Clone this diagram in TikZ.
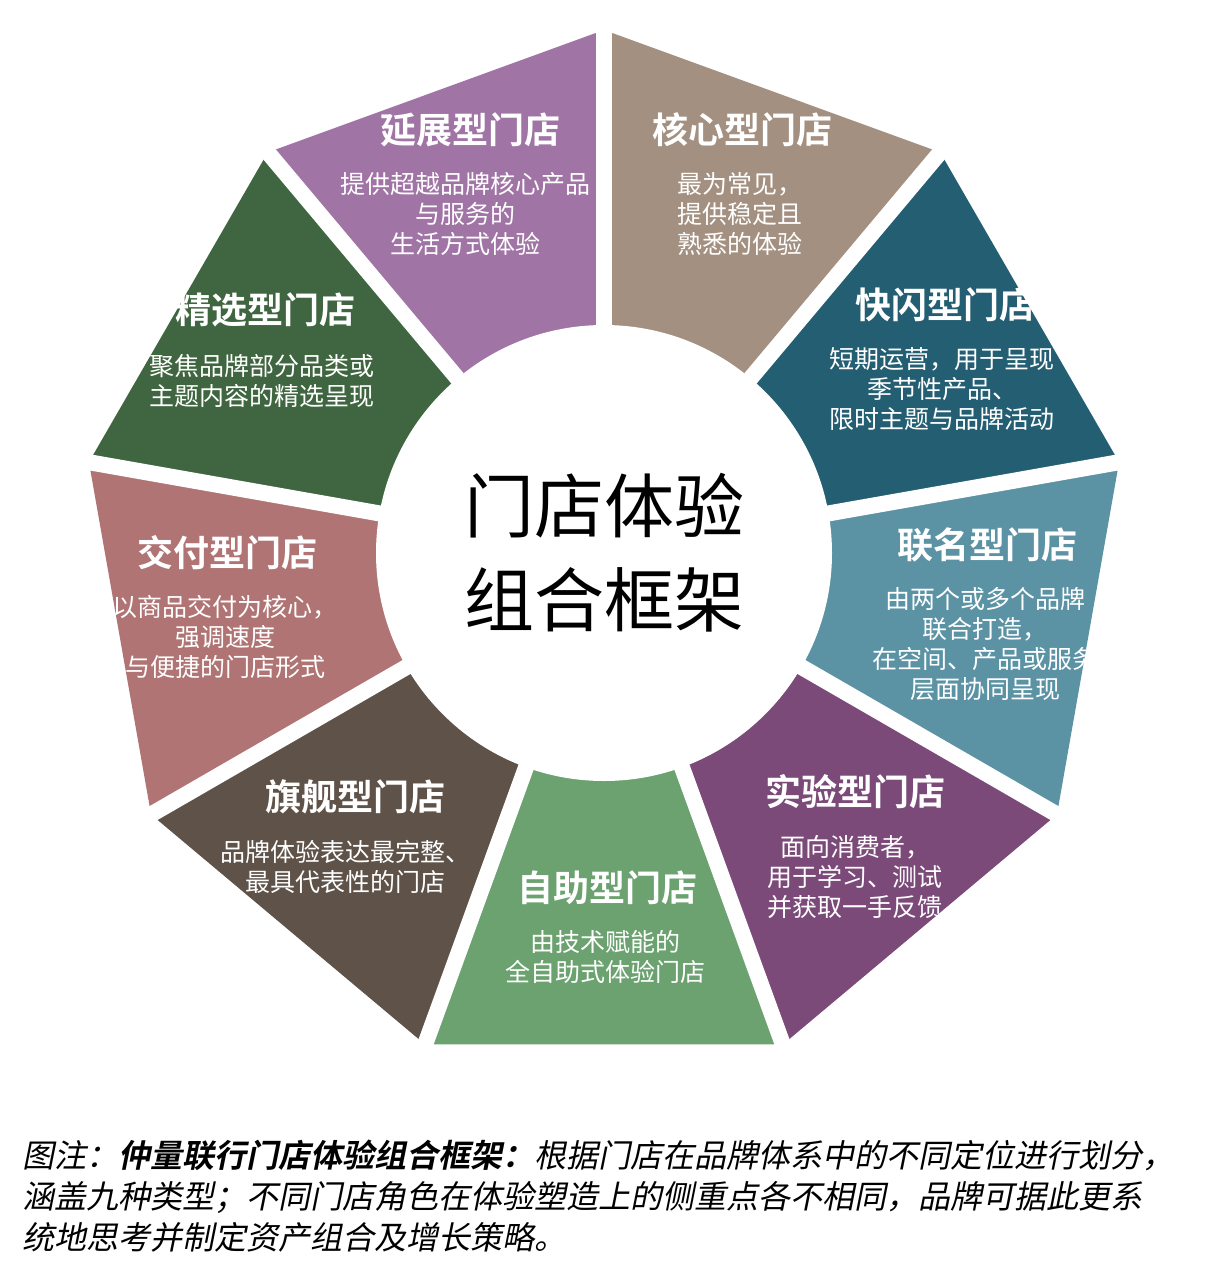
\documentclass[tikz,border=0pt]{standalone}
\usepackage{fontspec}
\usetikzlibrary{calc}
\newfontfamily\cjk{Noto Sans CJK SC}
\newfontfamily\cjkb{Noto Sans CJK SC Bold}
\newfontfamily\cjki[FakeSlant=0.2]{Noto Sans CJK SC}
\newfontfamily\cjkbi[FakeSlant=0.2]{Noto Sans CJK SC Bold}
\definecolor{cYanzhan}{HTML}{A074A5}
\definecolor{cHexin}{HTML}{A39080}
\definecolor{cKuaishan}{HTML}{235E72}
\definecolor{cLianming}{HTML}{5B93A5}
\definecolor{cShiyan}{HTML}{7B4A78}
\definecolor{cZizhu}{HTML}{6BA26F}
\definecolor{cQijian}{HTML}{5E5249}
\definecolor{cJiaofu}{HTML}{B07474}
\definecolor{cJingxuan}{HTML}{3F6640}
\tikzset{
  title/.style={text=white,font=\cjkb\fontsize{18}{21}\selectfont,inner sep=0pt},
  body/.style={text=white,font=\cjk\fontsize{12.5}{15}\selectfont,align=center,inner sep=0pt,anchor=north},
  gap/.style={white,line width=8pt}
}
\begin{document}
\begin{tikzpicture}[x=0.5pt,y=-0.5pt]
\useasboundingbox (0,0) rectangle (1208,1280);
\fill[white] (0,0) rectangle (1208,1280);
\coordinate (c) at (604,553);
% sectors of the ring (y points down, so angles are negated)
\foreach \a/\col in {90/cHexin,50/cKuaishan,10/cLianming,-30/cShiyan,-70/cZizhu,-110/cQijian,-150/cJiaofu,170/cJingxuan,130/cYanzhan}{
  \fill[\col] (c) -- ($(c)+(-\a:523)$) -- ($(c)+(-\a+40:523)$) -- cycle;
}
\foreach \a in {90,50,...,-230}{
  \draw[gap] (c) -- ($(c)+(-\a:540)$);
}
\fill[white] (c) circle (228);
\node[font=\cjk\fontsize{35}{47}\selectfont,align=center] (center) at (604,553) {门店体验\\组合框架};
% labels
\node[title] (yanzhan) at (470,130) {延展型门店};
\node[body] (yanzhanT) at (465,172) {提供超越品牌核心产品\\与服务的\\生活方式体验};
\node[title] (hexin) at (742,130) {核心型门店};
\node[body] (hexinT) at (740,172) {最为常见，\\提供稳定且\\熟悉的体验};
\node[title] (kuaishan) at (945,305) {快闪型门店};
\node[body] (kuaishanT) at (942,347) {短期运营，用于呈现\\季节性产品、\\限时主题与品牌活动};
\node[title] (lianming) at (987,545) {联名型门店};
\node[body] (lianmingT) at (985,587) {由两个或多个品牌\\联合打造，\\在空间、产品或服务\\层面协同呈现};
\node[title] (shiyan) at (855,792) {实验型门店};
\node[body] (shiyanT) at (855,835) {面向消费者，\\用于学习、测试\\并获取一手反馈};
\node[title] (zizhu) at (607,888) {自助型门店};
\node[body] (zizhuT) at (605,930) {由技术赋能的\\全自助式体验门店};
\node[title] (qijian) at (355,797) {旗舰型门店};
\node[body] (qijianT) at (345,840) {品牌体验表达最完整、\\最具代表性的门店};
\node[title] (jiaofu) at (227,553) {交付型门店};
\node[body] (jiaofuT) at (225,595) {以商品交付为核心，\\强调速度\\与便捷的门店形式};
\node[title] (jingxuan) at (265,310) {精选型门店};
\node[body] (jingxuanT) at (262,354) {聚焦品牌部分品类或\\主题内容的精选呈现};
% caption
\node[anchor=north west,align=left,inner sep=0pt,font=\cjki\fontsize{16}{20.5}\selectfont] (caption) at (22,1140)
  {图注：{\cjkbi 仲量联行门店体验组合框架：}根据门店在品牌体系中的不同定位进行划分，\\
   涵盖九种类型；不同门店角色在体验塑造上的侧重点各不相同，品牌可据此更系\\
   统地思考并制定资产组合及增长策略。};
\end{tikzpicture}
\end{document}
